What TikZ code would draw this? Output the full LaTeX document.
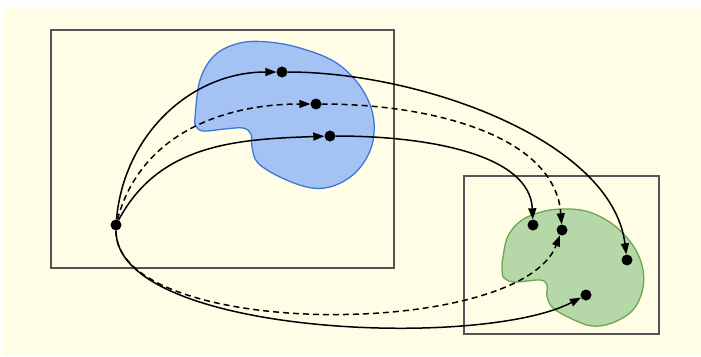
\documentclass[tikz,border=0pt]{standalone}
\usepackage{xcolor}
\definecolor{bgyellow}{RGB}{255,253,229}
\definecolor{boxgray}{RGB}{85,85,85}
\definecolor{blobblue}{RGB}{164,194,244}
\definecolor{lineblue}{RGB}{60,120,216}
\definecolor{blobgreen}{RGB}{182,215,168}
\definecolor{linegreen}{RGB}{106,168,79}
\usetikzlibrary{arrows.meta}

\tikzset{
  dot/.style={circle, fill=black, inner sep=0pt, minimum size=11pt},
  mapline/.style={line width=1.5pt, -{Triangle[length=11pt,width=8pt]}},
  dashmap/.style={mapline, dash pattern=on 6pt off 4pt},
  frame/.style={boxgray, line width=1.5pt}
}

\begin{document}
\begin{tikzpicture}[x=1pt, y=1pt]
    % Canvas: white strip left and top, yellow background
    \useasboundingbox (0,0) rectangle (701,-356);
    \fill[bgyellow] (3,-7) rectangle (701,-356);

    % Domain and codomain boxes
    \draw[frame] (51,-30) rectangle (394,-268);
    \draw[frame] (464,-176) rectangle (659,-334);

    % Blue region (domain set)
    \draw[lineblue, fill=blobblue, line width=1.3pt] plot[smooth cycle, tension=0.6] coordinates {
      (195,-118) (200,-80) (215,-55) (240,-43) (268,-42) (300,-48) (335,-62)
      (360,-86) (373,-115) (372,-145) (358,-170) (336,-185) (312,-188)
      (282,-178) (258,-163) (252,-147) (251,-134) (243,-128) (225,-129)
      (203,-131) (196,-126)};

    % Green region (image set)
    \draw[linegreen, fill=blobgreen, line width=1.3pt] plot[smooth cycle, tension=0.6] coordinates {
      (503,-257) (508,-236) (522,-220) (545,-211) (570,-209) (592,-213)
      (615,-226) (634,-247) (643,-270) (642,-292) (632,-311) (612,-323)
      (592,-326) (572,-319) (553,-308) (547,-296) (547,-285) (540,-280)
      (515,-282) (504,-278) (502,-268)};

    % Points
    \node[dot] (src) at (116,-225) {};
    \node[dot] (ba) at (282,-72) {};
    \node[dot] (bb) at (316,-104) {};
    \node[dot] (bc) at (330,-136) {};
    \node[dot] (gd) at (533,-225) {};
    \node[dot] (ge) at (562,-230) {};
    \node[dot] (gf) at (627,-260) {};
    \node[dot] (gg) at (586,-295) {};

    % Source into the blue region
    \draw[mapline] (src) to[out=85, in=180] (ba);
    \draw[dashmap] (src) to[out=75, in=180] (bb);
    \draw[mapline] (src) to[out=62, in=182] (bc);

    % Blue region into the green region
    \draw[mapline] (ba) .. controls (420,-72) and (612,-140) .. (gf);
    \draw[dashmap] (bb) .. controls (430,-104) and (555,-135) .. (ge);
    \draw[mapline] (bc) .. controls (430,-136) and (530,-155) .. (gd);

    % Source straight into the green region, below
    \draw[dashmap] (src) .. controls (116,-340) and (520,-340) .. (ge);
    \draw[mapline] (src) .. controls (116,-335) and (480,-350) .. (gg);
  \end{tikzpicture}
\end{document}
